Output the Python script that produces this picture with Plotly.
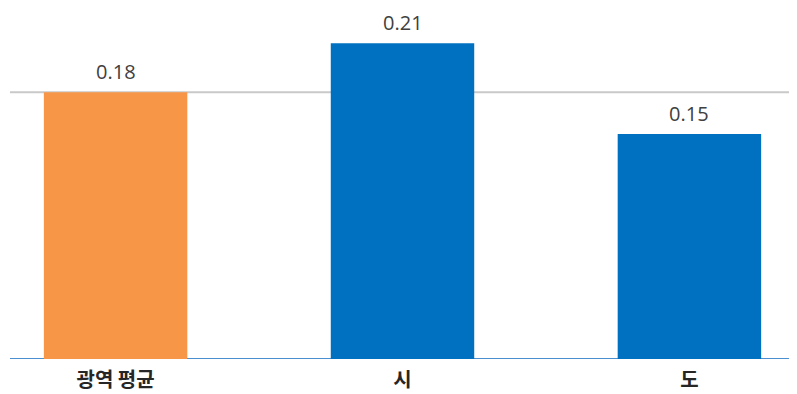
import plotly.graph_objects as go

# data
regions = ["광역 평균", "시", "도"]
values = [0.179, 0.212, 0.151]
bar_colors = ["#F79646", "#0070C0", "#0070C0"]
average = values[0]

fig = go.Figure()
fig.add_trace(go.Bar(
    x=regions, y=values, width=0.5,
    marker=dict(color=bar_colors, line=dict(width=0)),
    hoverinfo="skip",
))

# value labels above the bars
for cat, val in zip(regions, values):
    fig.add_annotation(
        x=cat, y=val, text=f"{val:.2f}", showarrow=False,
        yanchor="bottom", yshift=6, borderpad=0,
        font=dict(family="Open Sans, Noto Sans", size=20, color="#404040"),
    )

# average line and baseline
fig.add_shape(type="line", xref="paper", yref="y", x0=0, x1=1,
              y0=average, y1=average, line=dict(color="#C9C9C9", width=2), layer="below")
fig.add_shape(type="line", xref="paper", yref="y", x0=0, x1=1,
              y0=0, y1=0, line=dict(color="#4A90D0", width=2), layer="below")

# page body has an 8px margin, so the figure is a bit smaller than the window
fig.update_layout(
    width=789, height=386,
    margin=dict(l=2, r=0, t=0, b=35),
    paper_bgcolor="white", plot_bgcolor="white",
    showlegend=False,
    xaxis=dict(
        range=[-0.368, 2.375], showgrid=False, zeroline=False, showline=False,
        ticks="", ticklabelstandoff=7,
        tickfont=dict(family="Noto Sans CJK KR", size=20, color="#262626", weight="bold"),
    ),
    yaxis=dict(range=[0, 0.2356], visible=False, showgrid=False, zeroline=False),
)

fig.write_html("out.html")
